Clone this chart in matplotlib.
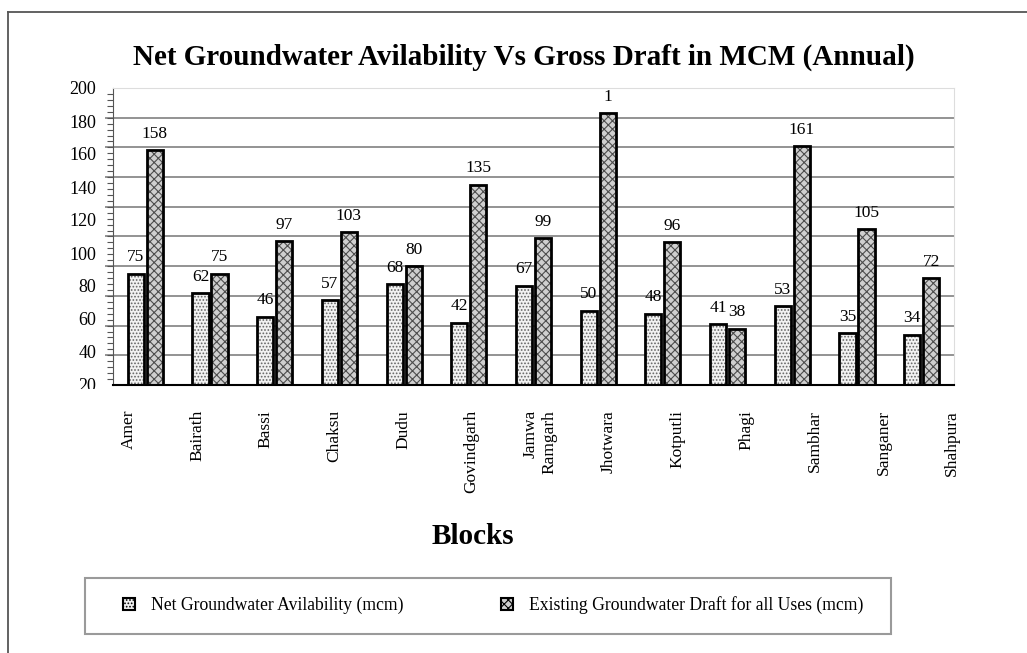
import numpy as np
import matplotlib.pyplot as plt
from matplotlib.patches import Patch, Rectangle
from matplotlib.lines import Line2D
from matplotlib.transforms import Bbox, TransformedBbox

plt.rcParams['font.family'] = ['Liberation Serif', 'DejaVu Serif']
plt.rcParams['hatch.linewidth'] = 0.8

# block-wise groundwater figures, million cubic metres per year
blocks = ['Amer', 'Bairath', 'Bassi', 'Chaksu', 'Dudu', 'Govindgarh', 'Jamwa\nRamgarh',
          'Jhotwara', 'Kotputli', 'Phagi', 'Sambhar', 'Sanganer', 'Shahpura']
net_avail = [75, 62, 46, 57, 68, 42, 67, 50, 48, 41, 53, 35, 34]
gross_draft = [158, 75, 97, 103, 80, 135, 99, 183, 96, 38, 161, 105, 72]
ytick_text = ['200', '180', '160', '140', '120', '100', '80', '60', '40', '20']

net_text = [str(v) for v in net_avail]
draft_text = [str(v) for v in gross_draft]
# the Jhotwara label only shows its leading digit
draft_text[blocks.index('Jhotwara')] = draft_text[blocks.index('Jhotwara')][0]

W, H = 1027, 653
fig = plt.figure(figsize=(W / 100, H / 100), dpi=100)
ax = fig.add_axes([113 / W, 1 - 385 / H, (954 - 113) / W, (385 - 88) / H])

x = np.arange(len(blocks))
w = 0.25
off = 0.147

# hatch layer first, then a black outline on top
ax.bar(x - off, net_avail, w, color='#f2f2f2', hatch='.....', edgecolor='#666666',
       linewidth=0, zorder=2)
net_bars = ax.bar(x - off, net_avail, w, color='none', edgecolor='black',
                  linewidth=2, zorder=3)
ax.bar(x + off, gross_draft, w, color='#cfcfcf', hatch='xxxx', edgecolor='#4d4d4d',
       linewidth=0, zorder=2)
draft_bars = ax.bar(x + off, gross_draft, w, color='none', edgecolor='black',
                    linewidth=2, zorder=3)

ax.bar_label(net_bars, labels=net_text, padding=6, fontsize=12.5)
ax.bar_label(draft_bars, labels=draft_text, padding=6, fontsize=12.5)

ax.set_xlim(-0.5, len(blocks) - 0.5)
ax.set_ylim(0, 200)

# gridlines every 20, poking a little past the value axis
ax.hlines(np.arange(20, 200, 20), -0.62, len(blocks) - 0.5, colors='#8a8a8a',
          linewidth=1.3, zorder=1, clip_on=False)

ax.set_yticks(np.linspace(200, 0, len(ytick_text)), ytick_text)
ax.set_yticks(np.arange(0, 201, 4), minor=True)
ax.tick_params(axis='y', which='major', length=0, pad=12, labelsize=13)
ax.tick_params(axis='y', which='minor', length=4, color='#555555', width=0.8)

lab = ax.get_yticklabels()[-1]
lab.set_clip_box(TransformedBbox(Bbox([[0, 1 - 389 / H], [1, 1]]), fig.transFigure))
lab.set_clip_on(True)

xlab_pos = np.linspace(-0.26, 12.47, len(blocks))
ax.set_xticks(xlab_pos, blocks, rotation=90, va='top', ha='center', multialignment='right')
ax.tick_params(axis='x', length=0, pad=18, labelsize=12.5)

ax.spines['left'].set_color('#555555')
ax.spines['bottom'].set_color('black')
ax.spines['bottom'].set_linewidth(1.5)
for s in ('top', 'right'):
    ax.spines[s].set_color('#dddddd')
    ax.spines[s].set_linewidth(0.8)

fig.text(524 / W, 1 - 57 / H, 'Net Groundwater Avilability Vs Gross Draft in MCM (Annual)',
         ha='center', va='center', fontsize=21, fontweight='bold')
fig.text(473 / W, 1 - 537 / H, 'Blocks', ha='center', va='center', fontsize=21,
         fontweight='bold')

handles = [Patch(facecolor='#f2f2f2', edgecolor='black', hatch='.....', linewidth=1.5,
                 label='Net Groundwater Avilability (mcm)'),
           Patch(facecolor='#cfcfcf', edgecolor='black', hatch='xxxx', linewidth=1.5,
                 label='Existing Groundwater Draft for all Uses (mcm)')]
fig.legend(handles=handles, loc='center left', bbox_to_anchor=(123 / W, 1 - 605 / H),
           ncol=2, frameon=False, fontsize=12.7, handlelength=0.7, handleheight=0.7,
           handletextpad=0.9, columnspacing=5.5, borderpad=0, borderaxespad=0)
fig.add_artist(Rectangle((85 / W, 1 - 634 / H), (891 - 85) / W, 56 / H,
                         transform=fig.transFigure, fill=False, edgecolor='#9a9a9a',
                         linewidth=1.5))

# page frame, left and top edges
fig.add_artist(Line2D([8 / W, 8 / W], [0, 1 - 12 / H], color='#555555', linewidth=1.3))
fig.add_artist(Line2D([8 / W, 1], [1 - 12 / H, 1 - 12 / H], color='#555555', linewidth=1.3))

fig.savefig('out.png', dpi=100)
